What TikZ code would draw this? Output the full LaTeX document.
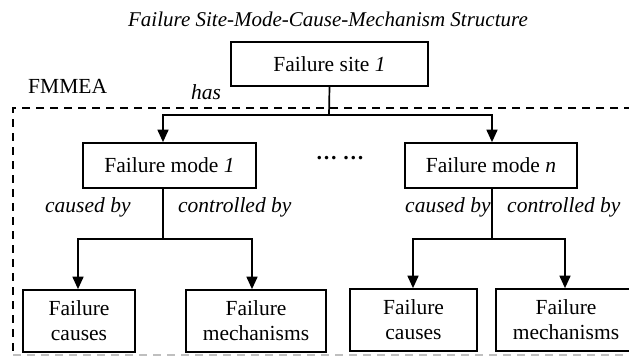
\documentclass[tikz,border=0pt]{standalone}
\usepackage{fontspec}
\setmainfont{Liberation Serif}
\usetikzlibrary{arrows.meta}

\tikzset{
  txt/.style={font=\fontsize{21.5}{25}\selectfont, inner sep=0pt},
  lbl/.style={txt, anchor=base west, font=\fontsize{21.5}{25}\selectfont\itshape},
  box/.style={txt, draw, line width=1.7pt, align=center},
  conn/.style={line width=1.7pt},
  arr/.style={conn, -{Triangle[length=12.5pt,width=11pt]}},
  frame/.style={line width=1.6pt, dash pattern=on 8pt off 6pt},
}

\begin{document}
\begin{tikzpicture}[x=1pt,y=-1pt]
  \useasboundingbox (0,0) rectangle (629,356);
  \clip (0,0) rectangle (629,356);

  % title
  \node[txt, font=\fontsize{21}{25}\selectfont\itshape] (title) at (328,19)
    {Failure Site-Mode-Cause-Mechanism Structure};

  % FMMEA frame (open to the right)
  \draw[frame] (660,108) -- (13,108) -- (13,355);
  \draw[frame, black!25] (13,355) -- (660,355);
  \node[txt, anchor=base west] (fmmea) at (28,93) {FMMEA};

  % boxes
  \node[box, minimum width=197pt, minimum height=44pt] (site) at (329.5,64)
    {Failure site \textit{1}};
  \node[box, minimum width=173pt, minimum height=45pt] (m1) at (169.5,165.5)
    {Failure mode \textit{1}};
  \node[box, minimum width=172pt, minimum height=45pt] (mn) at (491,165.5)
    {Failure mode \textit{n}};
  \node[txt, anchor=base, font=\fontsize{21.5}{25}\selectfont\bfseries] (dots) at (340,159.5) {… …};

  \node[box, minimum width=112pt, minimum height=62pt] (fc1) at (79,321)
    {Failure\\causes};
  \node[box, minimum width=140pt, minimum height=62pt] (fm1) at (256,321)
    {Failure\\mechanisms};
  \node[box, minimum width=127pt, minimum height=62pt] (fcn) at (413.5,320)
    {Failure\\causes};
  \node[box, minimum width=140pt, minimum height=62pt] (fmn) at (566,320)
    {Failure\\mechanisms};

  % relation labels
  \node[lbl] (has) at (191,99) {has};
  \node[lbl] (cb1) at (45,212) {caused by};
  \node[lbl] (ct1) at (178,212) {controlled by};
  \node[lbl] (cbn) at (405,212) {caused by};
  \node[lbl] (ctn) at (507,212) {controlled by};

  % junctions
  \coordinate (j0) at (329,115);
  \coordinate (j1) at (163,239);
  \coordinate (jn) at (492,239);

  % site -> modes
  \draw[conn] (site.south) -- (j0);
  \draw[arr] (j0) -| ([xshift=-6.5pt]m1.north);
  \draw[arr] (j0) -| ([xshift=1pt]mn.north);

  % mode 1 -> cause / mechanism
  \draw[conn] (m1.south -| j1) -- (j1);
  \draw[arr] (j1) -| ([xshift=-1pt]fc1.north);
  \draw[arr] (j1) -| ([xshift=-4pt]fm1.north);

  % mode n -> cause / mechanism
  \draw[conn] (mn.south -| jn) -- (jn);
  \draw[arr] (jn) -| ([xshift=-0.5pt]fcn.north);
  \draw[arr] (jn) -| ([xshift=-1pt]fmn.north);
\end{tikzpicture}
\end{document}
